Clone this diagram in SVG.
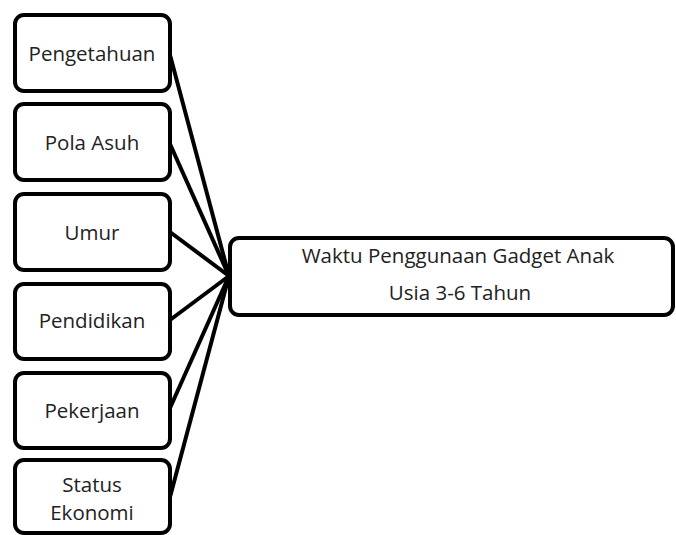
<svg xmlns="http://www.w3.org/2000/svg" width="676" height="535" viewBox="0 0 676 535">
<style>
.box{fill:#fff;stroke:#000;stroke-width:4}
.t{font-family:"Open Sans","Liberation Sans",sans-serif;font-size:20.5px;fill:#222;text-anchor:middle}
.c{stroke:#000;stroke-width:4;fill:none}
</style>
<rect width="676" height="535" fill="#fff"/>
<g id="connectors">
<line class="c" x1="170" y1="55" x2="229" y2="276"/>
<line class="c" x1="170" y1="144" x2="229" y2="276"/>
<line class="c" x1="170" y1="232" x2="229" y2="276"/>
<line class="c" x1="170" y1="320" x2="229" y2="276"/>
<line class="c" x1="170" y1="408" x2="229" y2="276"/>
<line class="c" x1="170" y1="497" x2="229" y2="276"/>
</g>
<g id="n1"><rect class="box" x="15" y="15" width="155" height="76" rx="9"/><text class="t" x="92" y="61">Pengetahuan</text></g>
<g id="n2"><rect class="box" x="15" y="104" width="155" height="76" rx="9"/><text class="t" x="92" y="150">Pola Asuh</text></g>
<g id="n3"><rect class="box" x="15" y="194" width="155" height="76" rx="9"/><text class="t" x="92" y="240">Umur</text></g>
<g id="n4"><rect class="box" x="15" y="284" width="155" height="75" rx="9"/><text class="t" x="92" y="328">Pendidikan</text></g>
<g id="n5"><rect class="box" x="15" y="373" width="155" height="75" rx="9"/><text class="t" x="92" y="418">Pekerjaan</text></g>
<g id="n6"><rect class="box" x="15" y="460" width="155" height="73" rx="9"/><text class="t" x="92" y="492">Status</text><text class="t" x="92" y="520">Ekonomi</text></g>
<g id="target"><rect class="box" x="230" y="238" width="443" height="77" rx="9"/><text class="t" x="458" y="263">Waktu Penggunaan Gadget Anak</text><text class="t" x="460" y="300">Usia 3-6 Tahun</text></g>
</svg>
